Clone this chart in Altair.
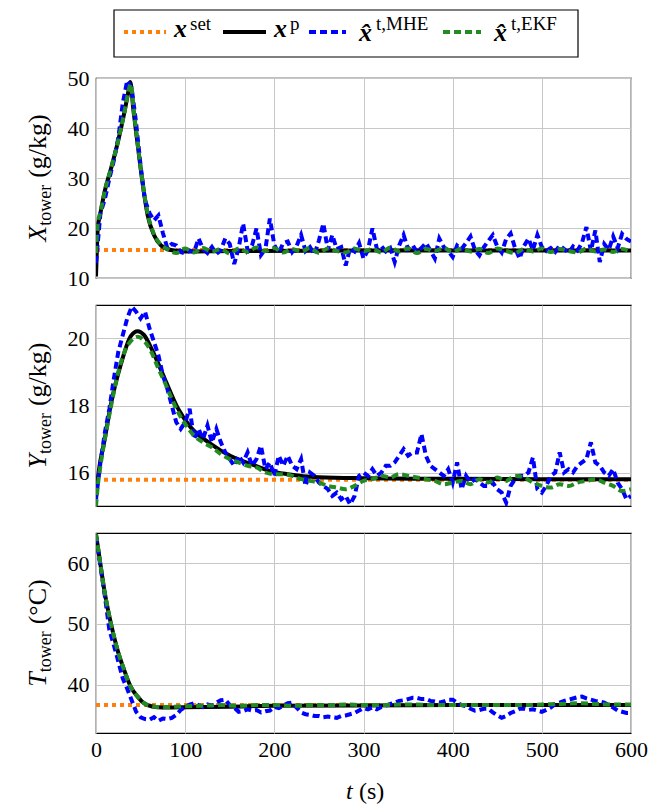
import altair as alt
import pandas as pd

FONT = "'Liberation Serif', 'DejaVu Serif', serif"
W = 535
H1, H2, H3 = 200, 201, 200

# ---------------- data ----------------
time_grid = list(range(0, 601, 5))

# Panel 1: X_tower (g/kg)
set_x = [15.6, 15.6]
set_t = [0, 600]
plant_x_t = [0, 1, 2, 5, 10, 17, 24, 32, 36, 38.5, 42, 47, 52, 58, 65, 73, 84, 100, 150, 300, 600]
plant_x = [10.3, 16.0, 20.0, 23.0, 27.5, 32.0, 36.8, 43.3, 47.0, 49.2, 43.5, 36.3, 29.3, 22.5, 18.6, 16.5,
           15.6, 15.3, 15.4, 15.5, 15.5]
mhe_x = [13.0, 23.0, 25.8, 29.9, 33.5, 38.0, 44.9, 49.5, 48.0, 41.0, 32.5, 25.5, 23.0, 21.5, 22.5, 19.0,
         16.0, 16.8, 16.5, 15.2, 14.9, 15.5, 15.2, 17.9, 15.8, 15.0, 16.2, 14.8, 15.6, 17.9, 16.8, 12.8,
         16.0, 20.9, 15.5, 16.5, 19.9, 14.6, 15.8, 21.9, 16.6, 15.0, 17.0, 17.3, 15.2, 16.4, 18.6, 15.4,
         16.2, 14.7, 17.5, 20.9, 15.6, 18.6, 15.8, 16.2, 12.5, 16.0, 15.3, 17.0, 13.9, 15.6, 19.9, 15.8,
         16.4, 15.3, 16.0, 13.2, 16.5, 18.6, 15.8, 16.6, 15.2, 16.0, 17.0, 15.5, 13.9, 17.9, 16.2, 15.4,
         14.2, 16.5, 15.8, 17.0, 18.3, 15.6, 14.5, 16.2, 17.4, 18.6, 16.3, 15.1, 17.8, 18.9, 16.0, 13.9,
         16.4, 17.9, 15.6, 18.6, 16.2, 15.4, 16.0, 15.2, 16.5, 15.8, 15.0, 16.3, 15.5, 17.0, 20.2, 15.4,
         19.5, 13.2, 16.8, 15.6, 18.3, 16.0, 18.8, 17.8, 17.3]
ekf_x_t = [0, 2, 5, 10, 17, 24, 32, 36, 39, 42, 47, 52, 58, 65, 73] + list(range(80, 601, 10))
ekf_x = [15.0, 20.8, 23.2, 27.5, 32.0, 36.8, 43.3, 47.0, 48.8, 44.0, 36.5, 29.5, 22.8, 18.8, 16.6,
         15.8, 15.0, 15.9, 15.1, 16.0, 15.3, 15.8, 14.9, 15.9, 15.2, 16.1, 15.4, 16.0, 15.1, 15.8, 15.3,
         16.0, 15.0, 15.9, 15.4, 15.1, 15.9, 15.3, 15.8, 15.1, 16.1, 15.3, 15.9, 15.0, 15.8, 15.4, 16.0,
         15.2, 15.9, 15.3, 15.8, 15.0, 15.9, 15.4, 15.0, 15.8, 15.3, 15.9, 15.2, 15.8, 15.4, 15.1, 15.9,
         15.3, 15.7, 15.2, 15.8, 15.2]

# Panel 2: Y_tower (g/kg)
set_y = [15.78, 15.78]
plant_y_t = [0, 4, 9.4, 16.8, 28, 39, 46.7, 54, 61.7, 76.6, 91.6, 106.5, 129, 151, 174, 196, 215, 250,
             300, 400, 500, 600]
plant_y = [15.36, 16.2, 16.94, 18.05, 19.24, 20.07, 20.22, 20.1, 19.73, 18.83, 17.93, 17.34, 16.85,
           16.49, 16.25, 16.04, 15.95, 15.86, 15.83, 15.81, 15.8, 15.8]
mhe_y = [15.2, 16.3, 17.2, 17.9, 18.8, 19.6, 20.1, 20.6, 20.95, 20.8, 20.6, 20.8, 20.3, 19.9, 19.5, 18.9,
         18.5, 18.0, 17.5, 17.3, 17.5, 17.9, 17.0, 17.3, 17.0, 17.4, 16.9, 17.3, 16.9, 16.6, 16.4, 16.2,
         16.5, 16.3, 16.6, 16.2, 16.4, 16.8, 16.1, 16.3, 15.9, 16.5, 16.2, 16.5, 16.2, 16.1, 16.4, 15.6,
         16.0, 15.9, 15.7, 15.6, 15.5, 15.3, 15.4, 15.2, 15.3, 15.05, 15.3, 15.9, 16.0, 15.9, 16.1, 15.9,
         16.0, 16.2, 16.2, 16.3, 16.5, 16.7, 16.5, 16.6, 16.6, 17.15, 16.5, 16.2, 16.1, 16.0, 15.9, 16.1,
         15.7, 16.3, 15.5, 15.9, 15.7, 15.8, 15.7, 15.6, 15.6, 15.7, 15.5, 15.4, 15.1, 15.6, 15.8, 15.9,
         15.9, 16.0, 16.45, 15.5, 15.4, 15.6, 15.9, 16.0, 16.6, 16.0, 16.1, 16.0, 16.2, 16.3, 16.4, 16.9,
         16.3, 16.2, 16.0, 15.9, 16.1, 15.7, 15.5, 15.2, 15.3]
ekf_y_t = [0, 2, 5, 10, 17, 25, 32, 40, 47, 55, 62, 70, 77, 85, 92] + list(range(100, 601, 10))
ekf_y = [15.0, 15.6, 16.2, 17.0, 18.0, 19.0, 19.6, 19.95, 20.05, 19.9, 19.6, 19.1, 18.7, 18.2, 17.8,
         17.45, 17.1, 16.9, 16.75, 16.55, 16.4, 16.3, 16.2, 16.15, 16.0, 15.95, 15.95, 15.9, 15.8, 15.75,
         15.7, 15.6, 15.55, 15.5, 15.6, 15.75, 15.8, 15.9, 15.85, 15.95, 15.9, 15.85, 15.8, 15.75, 15.65,
         15.7, 15.75, 15.65, 15.8, 15.7, 15.85, 15.75, 15.9, 15.85, 15.7, 15.6, 15.55, 15.65, 15.6, 15.7,
         15.75, 15.8, 15.7, 15.6, 15.45, 15.5]

# Panel 3: T_tower (°C)
set_T = [36.6, 36.6]
plant_T_t = [0, 5, 9.4, 16.8, 24.3, 31.8, 39, 46.7, 53, 58, 69, 80, 100, 150, 200, 300, 400, 600]
plant_T = [64.8, 59.8, 55.5, 50.0, 45.6, 42.3, 39.6, 38.0, 37.0, 36.6, 36.25, 36.2, 36.25, 36.35, 36.5,
           36.55, 36.6, 36.6]
mhe_T = [64.5, 59.5, 54.5, 49.0, 46.5, 43.8, 41.0, 39.3, 37.4, 35.5, 34.6, 34.3, 34.2, 34.6, 34.0, 34.4,
         34.3, 34.5, 35.0, 35.8, 36.3, 36.7, 36.9, 36.6, 36.3, 36.7, 36.5, 37.0, 37.4, 37.5, 36.6, 36.2,
         35.5, 35.6, 35.9, 35.7, 35.8, 35.4, 35.6, 35.7, 36.3, 36.1, 36.5, 36.9, 37.0, 36.2, 35.4, 35.1,
         35.0, 34.8, 34.8, 34.6, 34.7, 34.6, 34.5, 34.8, 34.9, 35.1, 35.3, 35.7, 36.1, 35.9, 36.2, 35.9,
         36.3, 36.5, 36.8, 37.0, 37.3, 37.4, 37.6, 37.8, 37.8, 37.6, 37.6, 37.3, 37.2, 37.0, 37.2, 37.5,
         37.5, 37.0, 36.6, 36.4, 36.0, 35.7, 35.8, 36.0, 36.0, 35.4, 34.9, 34.5, 34.8, 35.3, 35.6, 36.0,
         36.0, 35.8, 35.9, 35.7, 35.5, 35.8, 36.2, 36.8, 37.0, 37.3, 37.5, 37.7, 37.9, 38.0, 37.7, 37.5,
         37.3, 37.2, 37.0, 36.6, 36.2, 35.7, 35.5, 35.3, 35.3]
ekf_T_t = [0, 5, 9.4, 16.8, 24.3, 31.8, 39, 46.7, 53, 58, 69, 80] + list(range(100, 601, 20))
ekf_T = [64.8, 59.8, 55.5, 50.0, 45.6, 42.3, 39.6, 38.0, 37.0, 36.6, 36.3, 36.3,
         36.4, 36.5, 36.6, 36.5, 36.6, 36.6, 36.5, 36.6, 36.6, 36.7, 36.6, 36.6, 36.7, 36.7, 36.6, 36.6,
         36.6, 36.6, 36.6, 36.6, 36.7, 36.8, 36.9, 36.8, 36.7, 36.7]

x_ticks = [0, 100, 200, 300, 400, 500, 600]

# ---------------- styling helpers ----------------
C_SET, C_PLANT, C_MHE, C_EKF = "#ff7f0e", "#000000", "#0000ff", "#228b22"
D_SET, D_MHE, D_EKF = [4, 4], [7, 4], [7, 4]
SW = 4

dummy = pd.DataFrame({"d": [0]})

# approximate em widths (Times-like metrics)
EM = {"t": 0.278, "o": 0.5, "w": 0.722, "e": 0.444, "r": 0.333, "(": 0.333, ")": 0.333,
      "g": 0.5, "/": 0.278, "k": 0.5, "°": 0.4, "C": 0.667, "s": 0.389, " ": 0.25,
      "X": 0.611, "Y": 0.556, "T": 0.556}


def text_w(s, size):
    return sum(EM.get(c, 0.5) for c in s) * size


def txt(s, x, y, size, **kw):
    return alt.Chart(dummy).mark_text(text=s, font=FONT, fontSize=size, color="black", **kw).encode(
        x=alt.value(x), y=alt.value(y))


def ytitle(main, unit, height):
    pieces = [(main, 26, "italic", 0, 0.0), ("tower", 18, "normal", 5, 0.0), (unit, 26, "normal", 0, 7.0)]
    total = sum(text_w(p[0], p[1]) + p[4] for p in pieces)
    y = height / 2 + total / 2
    out = []
    for s, size, style, shift, gap in pieces:
        y -= gap
        out.append(txt(s, -50 + shift, y, size, fontStyle=style, angle=270, align="left",
                       baseline="alphabetic"))
        y -= text_w(s, size)
    return out


def panel(st, sv, pt, pv, mt, mv, et, ev, ydom, yvals, height, show_x):
    xenc = alt.X("t:Q", scale=alt.Scale(domain=[0, 600], nice=False),
                 axis=alt.Axis(values=x_ticks, labels=show_x, grid=True, ticks=False, domain=False,
                               title="", labelPadding=6, labelFlush=False))
    yenc = alt.Y("v:Q", scale=alt.Scale(domain=ydom, nice=False, zero=False),
                 axis=alt.Axis(values=yvals, grid=True, ticks=False, domain=False, title="",
                               labelPadding=7))
    d_set = pd.DataFrame({"t": st, "v": sv})
    d_pl = pd.DataFrame({"t": pt, "v": pv})
    d_mh = pd.DataFrame({"t": mt, "v": mv})
    d_ek = pd.DataFrame({"t": et, "v": ev})
    l_set = alt.Chart(d_set).mark_line(color=C_SET, strokeDash=D_SET, strokeWidth=SW, clip=True).encode(x=xenc, y=yenc)
    l_pl = alt.Chart(d_pl).mark_line(color=C_PLANT, strokeWidth=SW, clip=True, interpolate="monotone").encode(x=xenc, y=yenc)
    l_mh = alt.Chart(d_mh).mark_line(color=C_MHE, strokeDash=D_MHE, strokeWidth=SW, clip=True).encode(x=xenc, y=yenc)
    l_ek = alt.Chart(d_ek).mark_line(color=C_EKF, strokeDash=D_EKF, strokeWidth=SW, clip=True,
                                     interpolate="monotone").encode(x=xenc, y=yenc)
    return [l_set, l_pl, l_mh, l_ek]


# ---------------- legend (drawn above panel 1) ----------------
def legend_layers():
    L = []
    L.append(alt.Chart(dummy).mark_rect(fill="white", stroke="black", strokeWidth=1.2).encode(
        x=alt.value(18), x2=alt.value(482), y=alt.value(-68), y2=alt.value(-21)))
    yl = -46
    for (a, b, col, dash) in [(28, 70, C_SET, D_SET), (127, 170, C_PLANT, None),
                              (213, 250, C_MHE, D_MHE), (347, 385, C_EKF, D_EKF)]:
        kw = dict(color=col, strokeWidth=SW)
        if dash:
            kw["strokeDash"] = dash
        L.append(alt.Chart(dummy).mark_rule(**kw).encode(x=alt.value(a), x2=alt.value(b), y=alt.value(yl)))
    bx = dict(fontStyle="italic", fontWeight="bold", align="left", baseline="alphabetic")
    sup = dict(align="left", baseline="alphabetic")
    L.append(txt("x", 78, -41, 26, **bx))
    L.append(txt("set", 94, -48, 19, **sup))
    L.append(txt("x", 178, -41, 26, **bx))
    L.append(txt("p", 194, -48, 19, **sup))
    for xx, s in [(263, "t,MHE"), (398, "t,EKF")]:
        L.append(txt("x\u0302", xx, -37, 26, **bx))
        L.append(txt(s, xx + 17, -48, 19, **sup))
    return L


p1 = alt.layer(*panel(set_t, set_x, plant_x_t, plant_x, time_grid, mhe_x, ekf_x_t, ekf_x,
                      [10, 50], [10, 20, 30, 40, 50], H1, False),
               *ytitle("X", "(g/kg)", H1), *legend_layers()).properties(width=W, height=H1)

p2 = alt.layer(*panel(set_t, set_y, plant_y_t, plant_y, time_grid, mhe_y, ekf_y_t, ekf_y,
                      [15, 21], [16, 18, 20], H2, False),
               *ytitle("Y", "(g/kg)", H2)).properties(width=W, height=H2)

xt = [txt("t", 250, 259, 24, fontStyle="italic", align="left", baseline="middle"),
      txt("(s)", 263, 259, 24, align="left", baseline="middle")]
p3 = alt.layer(*panel(set_t, set_T, plant_T_t, plant_T, time_grid, mhe_T, ekf_T_t, ekf_T,
                      [32, 65], [40, 50, 60], H3, True),
               *ytitle("T", "(°C)", H3), *xt).properties(width=W, height=H3)

chart = alt.vconcat(p1, p2, p3, spacing=27, bounds="flush").properties(
    padding={"left": 16, "top": 0, "right": 5, "bottom": 0}
).configure_axis(
    labelFont=FONT, labelFontSize=22, labelColor="black", gridColor="#c8c8c8", gridWidth=1
).configure_view(
    stroke="black", strokeWidth=1.2
)

chart.save("out.html", embed_options={"renderer": "svg", "actions": False})
